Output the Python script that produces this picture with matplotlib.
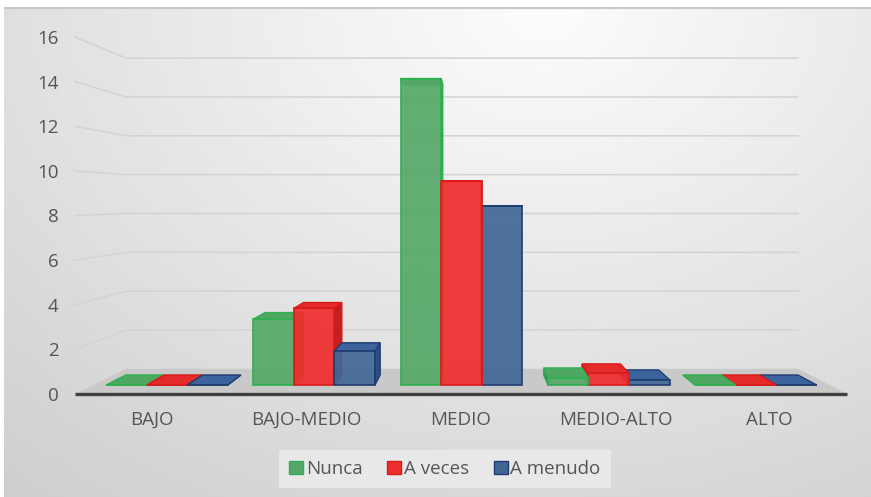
import numpy as np
import matplotlib.pyplot as plt
from matplotlib.patches import Polygon, Patch

plt.rcParams['font.family'] = ['Open Sans', 'DejaVu Sans']

categorias = ["BAJO", "BAJO-MEDIO", "MEDIO", "MEDIO-ALTO", "ALTO"]
series = ["Nunca", "A veces", "A menudo"]
nunca = [0, 3.1, 14.4, 0.35, 0]
a_veces = [0, 3.6, 9.6, 0.55, 0]
a_menudo = [0, 1.6, 8.4, 0.25, 0]
yticks = list(range(0, 17, 2))

# face / edge / side / top colours per series
colores = [
    ("#55a868", "#2fb04f", "#3f8a52", "#4fa862"),
    ("#ef2d2d", "#d91a1a", "#c41e1e", "#e52a2a"),
    ("#416795", "#1f3d70", "#2f5080", "#3d639c"),
]

# simple one-point perspective in data units of the front plane
VX, VY = 2.06, 8.7
S_FRONT, S_BACK, S_WALL = 0.954, 0.902, 0.87


def proj(x, y, s):
    return VX + (x - VX) * s, VY + (y - VY) * s


fig = plt.figure(figsize=(8.71, 4.97), dpi=100)
fig.patch.set_facecolor("white")

# soft grey background
bg = fig.add_axes([4 / 871, 0, 867 / 871, 490 / 497], zorder=-10)
gx, gy = np.meshgrid(np.linspace(0, 1, 400), np.linspace(0, 1, 240))
d = np.sqrt(((gx - 0.62) / 0.72) ** 2 + ((gy - 0.0) / 0.95) ** 2)
bg.imshow(np.clip(0.99 - 0.135 * d, 0, 1), cmap="gray", vmin=0, vmax=1,
          aspect="auto", extent=(0, 1, 1, 0))
bg.axhline(0.002, color="#c8c8c8", lw=1.5)
bg.set_axis_off()

ax = fig.add_axes([75 / 871, 103 / 497, 772 / 871, 357 / 497])
ax.set_facecolor("none")
ax.set_xlim(-0.5, 4.5)
ax.set_ylim(0, 16)
for sp in ax.spines.values():
    sp.set_visible(False)

# floor
x0, x1 = -0.5, len(categorias) - 0.5
piso = [(x0, 0), (x1, 0), proj(x1, 0, S_WALL), proj(x0, 0, S_WALL)]
ax.add_patch(Polygon(piso, closed=True, fc="#c9c9c9", ec="none", zorder=1, clip_on=False))

# gridlines: left wall diagonal + back wall
for v in yticks[1:]:
    bl = proj(x0, v, S_WALL)
    br = proj(x1, v, S_WALL)
    ax.plot([x0, bl[0], br[0]], [v, bl[1], br[1]], color="#d3d3d3", lw=1.1,
            zorder=1, clip_on=False)

ax.plot([x0, x1], [0, 0], color="#404040", lw=2.4, zorder=2, clip_on=False,
        solid_capstyle="butt")

# bars
ancho_grupo = 0.826
w = ancho_grupo / 3
barras = []
for k, vals in enumerate([nunca, a_veces, a_menudo]):
    for i, v in enumerate(vals):
        left = i - ancho_grupo / 2 + k * w
        barras.append((left, left + w, v, k))
barras.sort(key=lambda b: -abs((b[0] + b[1]) / 2 - VX))

z = 3
for left, right, v, k in barras:
    face, edge, side, top = colores[k]
    sx = right if (left + right) / 2 < VX else left
    lado = [proj(sx, 0, S_FRONT), proj(sx, v, S_FRONT),
            proj(sx, v, S_BACK), proj(sx, 0, S_BACK)]
    ax.add_patch(Polygon(lado, closed=True, fc=side, ec=edge, lw=1.0,
                         zorder=z, clip_on=False))
    tapa = [proj(left, v, S_FRONT), proj(right, v, S_FRONT),
            proj(right, v, S_BACK), proj(left, v, S_BACK)]
    ax.add_patch(Polygon(tapa, closed=True, fc=top, ec=edge, lw=1.0,
                         zorder=z + 0.1, clip_on=False))
    fl = proj(left, 0, S_FRONT)
    ax.bar(fl[0], v * S_FRONT, width=w * S_FRONT, bottom=fl[1], align="edge",
           color=face, edgecolor=edge, linewidth=1.3, alpha=0.92,
           zorder=z + 0.2, clip_on=False)
    z += 1

ax.set_yticks(yticks)
ax.set_yticklabels([str(t) for t in yticks])
ax.set_xticks(range(len(categorias)))
ax.set_xticklabels(categorias)
ax.tick_params(axis="y", length=0, pad=12, labelsize=13.5, labelcolor="#555555")
ax.tick_params(axis="x", length=0, pad=12, labelsize=13.5, labelcolor="#555555")

handles = [Patch(fc=colores[k][0], ec=colores[k][1], lw=1.0, label=s)
           for k, s in enumerate(series)]
leg = fig.legend(handles=handles, loc="center", ncol=3,
                 bbox_to_anchor=(445 / 871, 1 - 469 / 497),
                 frameon=True, facecolor="#e8e8e8", edgecolor="none",
                 framealpha=1, fancybox=False, fontsize=13.5,
                 handlelength=0.75, handleheight=0.75, handletextpad=0.15,
                 columnspacing=1.3, borderpad=0.55, borderaxespad=0)
for t in leg.get_texts():
    t.set_color("#555555")

fig.savefig("out.png", dpi=100)
